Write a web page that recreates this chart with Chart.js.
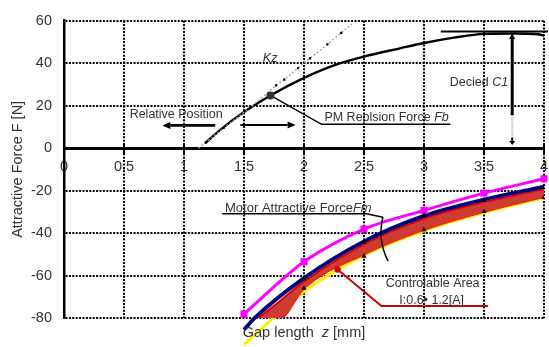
<!DOCTYPE html>
<html><head><meta charset="utf-8">
<script src="https://cdn.jsdelivr.net/npm/chart.js@4/dist/chart.umd.min.js"></script>
<style>html,body{margin:0;padding:0;background:#fff;}canvas{display:block;}</style>
</head><body>
<canvas id="c" width="549" height="347"></canvas>
<script>
// ---------- data ----------
const xTickLabels = ['0','0.5','1','1.5','2','2.5','3','3.5','4'];
const yTickLabels = ['-80','-60','-40','-20','0','20','40','60'];

// PM repulsion force Fb
const fbGap   = [1.18, 1.3, 1.5, 1.72, 2.0, 2.25, 2.5, 2.8, 3.0, 3.25, 3.5, 3.75, 3.95, 4.0];
const fbForce = [2.5, 8.5, 17, 24.8, 33.1, 39, 43.1, 47, 49.5, 52, 53.8, 54, 53.6, 53.0];

// Kz (spring line) points
const kzGap   = [1.12, 1.18, 1.33, 1.55, 1.767, 1.836, 1.95, 2.05, 2.195, 2.31, 2.4];
const kzForce = [0, 2.6, 9.5, 19, 29.5, 32.3, 37.7, 42.3, 48.8, 54.3, 58.5];

// Motor attractive force curves
const magGap    = [1.5, 2, 2.5, 3, 3.5, 4];
const magForce  = [-78.1, -53.5, -38.1, -29.3, -21.2, -14.4];

const navyGap   = [1.5, 1.6, 2, 2.5, 3, 3.5, 4];
const navyForce = [-85.5, -79.4, -61.2, -43.9, -31.9, -24.2, -18.1];

const redGap      = [1.62, 1.8, 2, 2.5, 3, 3.5, 4];
const redTopForce = [-80, -72, -62.8, -45.3, -33.2, -25.4, -19.2];
const redBotForce = [-80, -80, -66, -50, -38.5, -30, -23];

const yelGap   = [1.5, 2, 2.5, 3, 3.5, 4];
const yelForce = [-92.5, -67.6, -50.4, -38.9, -30.4, -23.4];

const triGap = [2, 2.5, 3, 3.5, 4];
const triTop = [-61.5, -44.3, -31.6, -24.7, -18.5];
const triBot = [-66, -50.9, -38.5, -29.8, -23.2];

// ---------- helpers ----------
const pts = (xs, ys) => xs.map((v, i) => ({x: v, y: ys[i]}));
const FAM = '"Liberation Sans", Arial, sans-serif';
const TXT = '#333';

function rich(ctx, parts, x, y, size, align) {
  const fonts = parts.map(p => (p[1] ? 'italic ' : '') + size + 'px ' + FAM);
  const widths = parts.map((p, i) => { ctx.font = fonts[i]; return ctx.measureText(p[0]).width; });
  const total = widths.reduce((a, b) => a + b, 0);
  let cx = align === 'center' ? x - total / 2 : x;
  ctx.textAlign = 'left'; ctx.textBaseline = 'middle'; ctx.fillStyle = TXT;
  parts.forEach((p, i) => { ctx.font = fonts[i]; ctx.fillText(p[0], cx, y); cx += widths[i]; });
}
function arrow(ctx, x1, y1, x2, y2, lw, head, hw) {
  const a = Math.atan2(y2 - y1, x2 - x1);
  const bx = x2 - head * Math.cos(a), by = y2 - head * Math.sin(a);
  ctx.lineWidth = lw;
  ctx.beginPath(); ctx.moveTo(x1, y1); ctx.lineTo(bx, by); ctx.stroke();
  ctx.beginPath(); ctx.moveTo(x2, y2);
  ctx.lineTo(bx + hw * Math.sin(a), by - hw * Math.cos(a));
  ctx.lineTo(bx - hw * Math.sin(a), by + hw * Math.cos(a));
  ctx.closePath(); ctx.fill();
}

const notes = {
  id: 'notes',
  afterDraw(chart) {
    const {ctx, chartArea: ca, scales: {x, y}} = chart;
    const X = v => x.getPixelForValue(v), Y = v => y.getPixelForValue(v);
    ctx.save();
    ctx.strokeStyle = '#000'; ctx.fillStyle = '#000'; ctx.lineCap = 'butt';
    // tick marks on the x axis
    ctx.lineWidth = 2;
    x.ticks.forEach(t => {
      ctx.beginPath(); ctx.moveTo(X(t.value), Y(0) - 5); ctx.lineTo(X(t.value), Y(0) + 6); ctx.stroke();
    });
    // Relative position arrows
    arrow(ctx, X(1.26), Y(10.7), X(0.82), Y(10.7), 2.8, 8, 3.5);
    arrow(ctx, X(1.47), Y(10.9), X(1.93), Y(10.9), 2, 8, 3.5);
    rich(ctx, [['Relative Position', false]], X(0.547), Y(15.6), 12.5, 'left');
    // Kz label
    rich(ctx, [['Kz', true]], X(1.718), Y(42.3), 12.5, 'center');
    // Fb leader
    ctx.lineWidth = 1.5;
    ctx.beginPath(); ctx.moveTo(X(1.72), Y(24.8)); ctx.lineTo(X(2.147), Y(11.2)); ctx.lineTo(X(3.22), Y(11.2)); ctx.stroke();
    ctx.beginPath(); ctx.arc(X(1.72), Y(24.8), 4, 0, Math.PI * 2); ctx.fill();
    rich(ctx, [['PM Replsion Force ', false], ['Fb', true]], X(2.17), Y(14.5), 12.5, 'left');
    // Decided C1
    ctx.lineWidth = 2;
    ctx.beginPath(); ctx.moveTo(X(3.14), Y(54.9)); ctx.lineTo(ca.right + 4, Y(54.9)); ctx.stroke();
    ctx.fillStyle = '#000';
    arrow(ctx, X(3.735), Y(15.5), X(3.735), Y(54.2), 3, 6, 3);
    ctx.save();
    ctx.strokeStyle = '#bbb'; ctx.lineWidth = 2.5; ctx.setLineDash([1, 1]);
    ctx.beginPath(); ctx.moveTo(X(3.735), Y(15.5)); ctx.lineTo(X(3.735), Y(5)); ctx.stroke();
    ctx.restore();
    arrow(ctx, X(3.735), Y(5), X(3.735), Y(1.5), 2, 4, 3);
    rich(ctx, [['Decied ', false], ['C1', true]], X(3.215), Y(30.8), 12.5, 'left');
    // Motor attractive force label
    rich(ctx, [['Motor Attractive Force', false], ['Fm', true]], X(1.342), Y(-28.3), 13, 'left');
    ctx.strokeStyle = '#000'; ctx.lineWidth = 1.5;
    ctx.beginPath(); ctx.moveTo(X(1.319), Y(-30.9)); ctx.lineTo(X(2.52), Y(-30.9)); ctx.lineTo(X(2.658), Y(-32.6)); ctx.stroke();
    ctx.beginPath(); ctx.moveTo(X(2.658), Y(-32.4));
    ctx.quadraticCurveTo(X(2.61), Y(-43), X(2.70), Y(-53.2)); ctx.stroke();
    // Controllable area
    ctx.strokeStyle = '#cc0000'; ctx.fillStyle = '#cc0000'; ctx.lineWidth = 2;
    ctx.beginPath(); ctx.moveTo(X(2.28), Y(-57.2)); ctx.lineTo(X(2.645), Y(-74.3)); ctx.lineTo(X(3.534), Y(-74.3)); ctx.stroke();
    ctx.beginPath(); ctx.arc(X(2.28), Y(-57.2), 3.2, 0, Math.PI * 2); ctx.fill();
    rich(ctx, [['Controlable Area', false]], X(3.072), Y(-63.7), 12.5, 'center');
    rich(ctx, [['I:0.6\u2022 1.2[A]', false]], X(3.064), Y(-71.7), 12.5, 'center');
    // axis titles
    rich(ctx, [['Gap length  ', false], ['z', true], [' [mm]', false]], X(2.0), ca.bottom + 15, 14.5, 'center');
    ctx.save();
    ctx.translate(18, (ca.top + ca.bottom) / 2);
    ctx.rotate(-Math.PI / 2);
    rich(ctx, [['Attractive Force F [N]', false]], 0, 0, 14.5, 'center');
    ctx.restore();
    ctx.restore();
  }
};

const gridCommon = {color: '#000', lineWidth: 2, drawTicks: false};

new Chart(document.getElementById('c'), {
  type: 'line',
  data: {
    datasets: [
      {label: 'Kz', data: pts(kzGap, kzForce), borderColor: '#a0a0a0', borderWidth: 1.3, borderDash: [2, 2],
       pointStyle: 'rect', pointRadius: kzGap.map((v, i) => (i === 0 || i === kzGap.length - 1) ? 0 : 1.6),
       pointBackgroundColor: '#000', pointBorderWidth: 0, tension: 0, order: 1},
      {label: 'Fb', data: pts(fbGap, fbForce), borderColor: '#000', borderWidth: 2.4, pointRadius: 0,
       cubicInterpolationMode: 'monotone', order: 2},
      {label: 'tri top', data: pts(triGap, triTop), showLine: false, pointStyle: 'triangle', pointRadius: 3,
       pointBackgroundColor: '#000', pointBorderColor: '#000', pointBorderWidth: 0, order: 3},
      {label: 'tri bot', data: pts(triGap, triBot), showLine: false, pointStyle: 'triangle', pointRadius: 3,
       pointBackgroundColor: '#000', pointBorderColor: '#000', pointBorderWidth: 0, order: 3},
      {label: 'magenta', data: pts(magGap, magForce), borderColor: '#ff00ff', borderWidth: 3, pointStyle: 'rect',
       pointRadius: 5, pointBackgroundColor: '#ff00ff', pointBorderWidth: 0, tension: 0.3, clip: false, order: 4},
      {label: 'navy', data: pts(navyGap, navyForce), borderColor: '#000080', borderWidth: 3.8, pointRadius: 0,
       cubicInterpolationMode: 'monotone', clip: false, order: 5},
      {label: 'red top', data: pts(redGap, redTopForce), borderColor: '#e00000', borderWidth: 2, pointStyle: 'rect',
       pointRadius: redGap.map((v, i) => i < 2 ? 0 : 1.8), pointBackgroundColor: '#ff0000', pointBorderWidth: 0,
       cubicInterpolationMode: 'monotone', fill: {target: 7}, backgroundColor: '#cd3b33', order: 6},
      {label: 'red bottom', data: pts(redGap, redBotForce), borderColor: '#ff1a00', borderWidth: 2, pointStyle: 'rect',
       pointRadius: redGap.map((v, i) => i < 2 ? 0 : 1.8), pointBackgroundColor: '#ff2000', pointBorderWidth: 0,
       cubicInterpolationMode: 'monotone', order: 7},
      {label: 'yellow', data: pts(yelGap, yelForce), borderColor: '#ffee00', borderWidth: 3, pointRadius: 0,
       cubicInterpolationMode: 'monotone', clip: false, order: 8}
    ]
  },
  options: {
    responsive: false, animation: false, devicePixelRatio: 1,
    layout: {padding: {left: 0, top: 15, right: 2, bottom: 29}},
    plugins: {legend: {display: false}, tooltip: {enabled: false}},
    scales: {
      x: {
        type: 'linear', min: 0, max: 4, position: {y: 0},
        grid: gridCommon,
        border: {display: true, color: '#000', width: 3, dash: [2, 1.4]},
        ticks: {stepSize: 0.5, padding: 10, color: TXT, font: {family: FAM, size: 14.5},
                maxRotation: 0, autoSkip: false, callback: (v, i) => xTickLabels[i]},
        afterFit: s => { s.paddingLeft = 0; s.paddingRight = 0; }
      },
      y: {
        type: 'linear', min: -80, max: 60, position: 'left',
        grid: gridCommon,
        border: {display: true, color: '#000', width: 2.5, dash: [2, 1.4]},
        ticks: {stepSize: 20, padding: 12, color: TXT, font: {family: FAM, size: 14.5},
                callback: (v, i) => yTickLabels[i]},
        afterFit: s => { s.width = 64; }
      }
    }
  },
  plugins: [notes]
});
</script>
</body></html>
